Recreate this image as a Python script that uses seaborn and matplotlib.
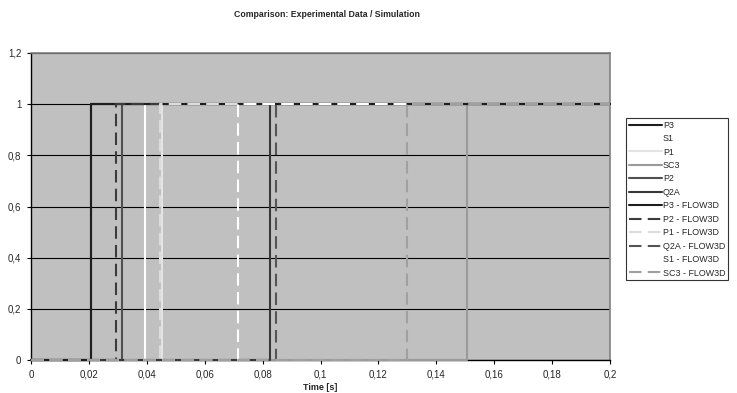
import pandas as pd
import matplotlib.pyplot as plt
import matplotlib.ticker as mticker
import seaborn as sns

series = ["P3", "S1", "P1", "SC3", "P2", "Q2A",
          "P3 - FLOW3D", "P2 - FLOW3D", "P1 - FLOW3D", "Q2A - FLOW3D", "S1 - FLOW3D", "SC3 - FLOW3D"]
onset = [0.0207, 0.0394, 0.0452, 0.1506, 0.0314, 0.0826,
         0.0207, 0.0294, 0.0446, 0.0846, 0.0715, 0.1298]
t_start, t_end = 0.0, 0.2
level_off, level_on = 0.0, 1.0

colors = ["#1e1e1e", "#ffffff", "#e4e4e4", "#9a9a9a", "#505050", "#383838",
          "#1e1e1e", "#3c3c3c", "#dcdcdc", "#555555", "#ffffff", "#a0a0a0"]
dash_styles = ["", "", "", "", "", "",
               "", (6, 3), (6, 3), (6, 3), (6, 3), (6, 3)]

# build long table: each series is a step 0 -> 1 at its onset time
rows = []
for name, t0 in zip(series, onset):
    for t, v in [(t_start, level_off), (t0, level_off), (t0, level_on), (t_end, level_on)]:
        rows.append({"series": name, "time": t, "value": v})
df = pd.DataFrame(rows)

sns.set_style("ticks")
plt.rcParams['font.family'] = ['Liberation Sans', 'DejaVu Sans']

fig = plt.figure(figsize=(7.37, 3.93), dpi=100)
ax = fig.add_axes([31/737, 1-360/393, (610-31)/737, (360-53)/393])
ax.set_facecolor("#c0c0c0")

sns.lineplot(data=df, x="time", y="value", hue="series", style="series",
             hue_order=series, style_order=series,
             palette=dict(zip(series, colors)), dashes=dict(zip(series, dash_styles)),
             estimator=None, sort=False, linewidth=1.5, ax=ax, zorder=3, clip_on=False)

ax.set_xlim(0, 0.2)
ax.set_ylim(0, 1.2)
ax.set_xticks([i * 0.02 for i in range(11)])
ax.set_yticks([i * 0.2 for i in range(7)])
fmt = mticker.FuncFormatter(lambda v, p: ("%g" % round(v, 3)).replace(".", ","))
ax.xaxis.set_major_formatter(fmt)
ax.yaxis.set_major_formatter(fmt)
ax.tick_params(labelsize=7, length=3, width=0.8, color="black", pad=4)
ax.yaxis.grid(True, color="black", linewidth=0.8)
ax.set_axisbelow(True)
for side in ["top", "right"]:
    ax.spines[side].set_color("#808080")
    ax.spines[side].set_linewidth(1.2)
for side in ["left", "bottom"]:
    ax.spines[side].set_color("black")
    ax.spines[side].set_linewidth(1.0)

ax.set_xlabel("Time [s]", fontsize=6.5, fontweight="bold", labelpad=2)
ax.set_ylabel("")
fig.suptitle("Comparison: Experimental Data / Simulation", x=0.444, y=0.975,
             fontsize=6.3, fontweight="bold")

handles, labels = ax.get_legend_handles_labels()
leg = ax.legend(handles, labels, loc="upper left", bbox_to_anchor=(626/737, 1-118/393),
                bbox_transform=fig.transFigure, borderaxespad=0, fontsize=6.4,
                handlelength=3.8, handletextpad=0.05, labelspacing=0.5,
                borderpad=0.3, fancybox=False, framealpha=1, edgecolor="#333333")
leg.get_frame().set_linewidth(0.8)
leg.get_frame().set_facecolor("white")
for h in leg.get_lines():
    h.set_linewidth(1.5)

fig.savefig("out.png", dpi=100)
